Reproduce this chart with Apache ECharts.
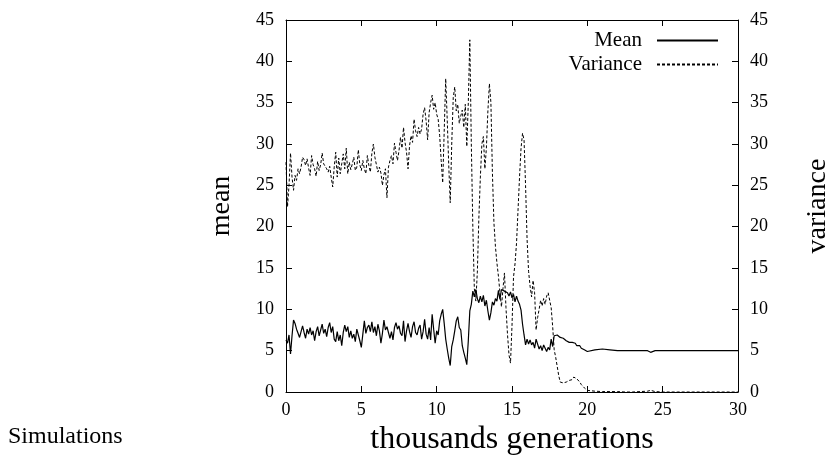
<!DOCTYPE html>
<html><head><meta charset="utf-8">
<script src="https://cdn.jsdelivr.net/npm/echarts@6/dist/echarts.min.js"></script>
<style>html,body{margin:0;padding:0;background:#fff}#c{width:840px;height:465px}</style>
</head><body><div id="c"></div>
<script>
// x grid: thousands of generations (sampled every 0.1 up to 20, then sparser)
const headGen = Array.from({length: 201}, (_, i) => +(i * 0.1).toFixed(1));
const tailGen = [20.5,21,21.5,22,22.5,23,23.5,24,24.2,24.5,25,25.5,26,26.5,27,27.5,28,28.5,29,29.5,30];
const genK = headGen.concat(tailGen);

const meanVals = [
6.3,5.9,6.9,4.6,6.8,8.7,8.3,7.6,7.1,6.6,
7.3,8.0,7.2,6.5,7.6,7.0,7.8,6.9,7.4,6.2,
7.3,7.9,6.8,7.5,8.2,7.1,7.6,6.7,7.8,8.4,
7.2,7.9,6.4,6.1,7.3,6.2,6.9,5.6,7.2,8.1,
7.3,7.9,6.6,7.4,6.5,7.0,6.1,7.6,7.8,6.2,
5.4,7.0,8.6,7.1,7.8,8.1,7.3,8.5,7.2,7.9,
6.8,8.2,7.4,5.9,7.1,8.7,7.5,7.9,7.2,6.5,
7.3,6.3,7.8,8.4,7.6,8.0,7.1,6.8,8.6,6.1,
7.4,8.3,7.3,6.6,7.9,8.5,7.2,6.9,7.7,8.1,
6.4,7.3,8.8,7.0,6.4,7.8,6.3,9.4,7.6,5.9,
7.4,
6.9,8.6,9.4,10.0,8.3,6.4,5.2,4.1,3.2,5.5,
6.3,7.4,8.6,9.1,7.8,7.5,5.6,4.8,4.1,3.3,
6.2,9.8,10.6,12.2,11.5,12.4,11.3,10.8,11.6,10.9,
11.7,10.4,11.1,9.8,8.7,9.6,10.9,10.5,11.3,11.0,
12.3,11.2,12.4,12.5,12.2,12.4,12.0,11.6,12.1,11.4,
11.8,10.9,11.6,11.0,10.6,9.9,8.2,6.9,5.7,6.4,
5.8,6.3,5.7,6.0,5.3,6.4,5.8,5.2,5.6,5.0,
5.7,5.3,4.9,5.4,5.1,6.4,5.5,6.8,6.6,6.9,
6.7,6.6,6.8,6.5,6.3,6.2,6.3,6.0,5.9,6.0,
5.8,5.9,5.6,5.5,5.6,5.3,5.2,5.1,5.0,4.9,
5.1,5.2,5.1,5.0,5.0,5.0,5.0,5.0,4.8,5.0,5.0,5.0,5.0,5.0,5.0,5.0,5.0,5.0,5.0,5.0,5.0
];

const varVals = [
27.8,22.4,25.0,28.9,26.0,24.4,26.2,25.6,27.0,26.4,
27.2,28.4,28.1,27.4,28.2,27.1,26.2,28.6,27.5,27.0,
26.1,27.9,26.8,27.5,28.9,27.6,27.8,27.0,26.6,27.3,
26.0,24.8,27.2,29.0,26.0,28.3,26.4,27.6,28.8,27.0,
29.5,26.4,27.8,26.9,27.6,28.4,26.8,27.2,29.3,27.5,
26.8,28.0,27.0,26.4,28.6,27.4,26.6,28.9,30.0,28.4,
27.5,26.6,27.2,26.5,25.0,26.3,27.0,23.5,27.2,28.0,
28.6,27.6,30.1,29.0,28.0,29.2,30.8,29.5,32.0,30.2,
29.0,27.0,29.8,31.0,30.2,33.0,31.6,30.9,32.0,31.2,
31.8,33.6,34.4,32.8,30.5,33.8,35.0,35.9,34.2,35.0,
33.6,
33.0,31.0,28.0,25.3,31.5,37.9,33.0,27.5,22.9,30.0,
35.6,36.9,34.0,34.8,32.5,33.4,34.1,32.0,34.8,29.7,
35.0,42.6,30.0,20.0,12.5,11.0,14.5,21.0,26.0,30.0,
30.9,27.0,29.5,34.0,37.3,35.0,26.5,20.5,17.6,15.6,
14.0,12.0,10.3,12.5,14.4,10.2,7.0,4.5,3.5,8.0,
13.9,15.5,18.0,22.0,26.0,29.5,31.3,30.5,25.0,18.5,
14.6,12.8,11.5,13.5,12.0,7.5,9.0,10.0,11.1,10.4,
11.3,10.6,11.6,12.0,11.9,10.2,7.9,5.1,4.2,3.1,
2.0,1.2,1.0,1.1,1.0,1.2,1.3,1.4,1.2,1.5,
1.8,2.0,1.6,1.7,1.2,0.9,0.7,0.5,0.3,0.2,
0.1,0.05,0.05,0.05,0,0,0.05,0.1,0.2,0.05,0,0,0,0,0,0,0,0,0,0,0
];

const xTicks = {min: 0, max: 30, interval: 5};
const yTicks = {min: 0, max: 45, interval: 5};

const FONT = '"Liberation Serif", "Times New Roman", serif';
const meanData = genK.map((x, i) => [x, meanVals[i]]);
const varData = genK.map((x, i) => [x, varVals[i]]);

const axisCommon = {
  axisLine: {show: true, onZero: false, lineStyle: {color: '#000', width: 1}},
  axisTick: {show: true, inside: true, length: 6, lineStyle: {color: '#000'}},
  splitLine: {show: false}
};

const chart = echarts.init(document.getElementById('c'), null, {renderer: 'canvas'});
chart.setOption({
  animation: false,
  backgroundColor: '#fff',
  color: ['#000', '#000'],
  grid: {left: 286, right: 95, top: 20, bottom: 73, containLabel: false},
  legend: {
    data: ['Mean', 'Variance'],
    orient: 'vertical',
    right: 116, top: 25,
    align: 'right',
    itemWidth: 61, itemHeight: 14, itemGap: 3,
    itemStyle: {opacity: 0},
    textStyle: {fontFamily: FONT, fontSize: 21, color: '#000', padding: [0, 10, 0, 0]}
  },
  xAxis: [
    Object.assign({type: 'value', position: 'bottom', min: xTicks.min, max: xTicks.max, interval: xTicks.interval,
      axisLabel: {fontFamily: FONT, fontSize: 18, color: '#000', margin: 9},
      name: 'thousands generations', nameLocation: 'middle', nameGap: 30,
      nameTextStyle: {fontFamily: FONT, fontSize: 32, color: '#000'}}, axisCommon),
    Object.assign({type: 'value', position: 'top', min: xTicks.min, max: xTicks.max, interval: xTicks.interval,
      axisLabel: {show: false}}, axisCommon)
  ],
  yAxis: [
    Object.assign({type: 'value', position: 'left', min: yTicks.min, max: yTicks.max, interval: yTicks.interval,
      axisLabel: {fontFamily: FONT, fontSize: 18, color: '#000', margin: 12},
      name: 'mean', nameLocation: 'middle', nameGap: 50, nameRotate: 90,
      nameTextStyle: {fontFamily: FONT, fontSize: 28, color: '#000'}}, axisCommon),
    Object.assign({type: 'value', position: 'right', min: yTicks.min, max: yTicks.max, interval: yTicks.interval,
      axisLabel: {fontFamily: FONT, fontSize: 18, color: '#000', margin: 12},
      name: 'variance', nameLocation: 'middle', nameGap: 66, nameRotate: 90,
      nameTextStyle: {fontFamily: FONT, fontSize: 28, color: '#000'}}, axisCommon)
  ],
  graphic: [{
    type: 'text', left: 8, top: 425,
    style: {text: 'Simulations', fontFamily: FONT, fontSize: 24, fill: '#000'}
  }],
  series: [
    {name: 'Mean', type: 'line', xAxisIndex: 0, yAxisIndex: 0, data: meanData,
     symbol: 'none', showSymbol: false, itemStyle: {color: '#000'},
     lineStyle: {color: '#000', width: 1.2}},
    {name: 'Variance', type: 'line', xAxisIndex: 0, yAxisIndex: 1, data: varData,
     symbol: 'none', showSymbol: false, itemStyle: {color: '#000'},
     lineStyle: {color: '#000', width: 1, type: [3, 2]}}
  ]
});
</script>
</body></html>
